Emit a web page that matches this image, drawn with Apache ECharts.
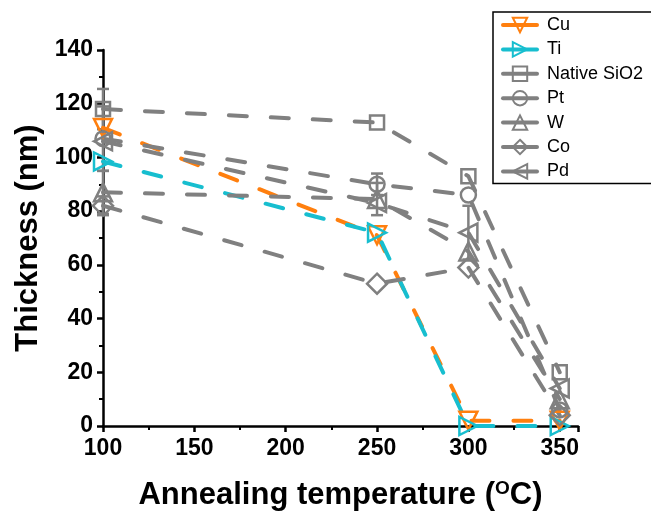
<!DOCTYPE html>
<html>
<head>
<meta charset="utf-8">
<script src="https://cdn.jsdelivr.net/npm/echarts@6/dist/echarts.min.js"></script>
<style>html,body{margin:0;padding:0;background:#fff;}#c{width:651px;height:516px;}</style>
</head>
<body>
<div id="c"></div>
<script>
// ---- data ----
const temps = [100, 250, 300, 350];
const cu   = [111, 71, 2, 2];
const ti   = [98.5, 72, 0, 0];
const sio2 = [118, 113, 93, 20];
const pt   = [107, 90, 86, 6];
const w    = [87, 84.5, 65, 10];
const co   = [82, 53, 59, 4];
const pd   = [106, 83, 72, 14];
// error bars: [temperature, value, half-range]
const errBars = [[100,118,7.5],[100,107,12],[100,87,8],[100,82,3.5],[250,90,4],[250,84.5,6],[300,72,10]];
const xTicks = [100, 150, 200, 250, 300, 350];
const yTicks = [0, 20, 40, 60, 80, 100, 120, 140];

const ORANGE = '#FF7F0E', CYAN = '#17BECF', GRAY = '#808080';
const FONT = '"Liberation Sans", Arial, sans-serif';

function mk(name, vals, color, symbol, rot, size) {
  return {
    name: name, type: 'line',
    data: temps.map((t, i) => [t, vals[i]]),
    symbol: symbol, symbolRotate: rot, symbolSize: size,
    lineStyle: { color: color, width: 4, type: [18, 24], cap: 'round' },
    itemStyle: { color: 'rgba(255,255,255,0)', borderColor: color, borderWidth: 2.5 },
    emphasis: { disabled: true },
    z: 3
  };
}

const series = [
  mk('Cu', cu, ORANGE, 'triangle', 180, 18),
  mk('Ti', ti, CYAN, 'triangle', -90, 18),
  mk('Native SiO2', sio2, GRAY, 'rect', 0, 14),
  mk('Pt', pt, GRAY, 'circle', 0, 15),
  mk('W', w, GRAY, 'triangle', 0, 18),
  mk('Co', co, GRAY, 'diamond', 0, 20),
  mk('Pd', pd, GRAY, 'triangle', 90, 18),
  {
    type: 'custom', name: 'err', data: errBars, z: 2,
    encode: { x: 0, y: 1 },
    renderItem: function (params, api) {
      const x = api.value(0), y = api.value(1), e = api.value(2);
      const hi = api.coord([x, y + e]), lo = api.coord([x, y - e]);
      const cw = 6;
      const st = { stroke: GRAY, lineWidth: 2.5 };
      return { type: 'group', children: [
        { type: 'line', shape: { x1: hi[0], y1: hi[1], x2: lo[0], y2: lo[1] }, style: st },
        { type: 'line', shape: { x1: hi[0] - cw, y1: hi[1], x2: hi[0] + cw, y2: hi[1] }, style: st },
        { type: 'line', shape: { x1: lo[0] - cw, y1: lo[1], x2: lo[0] + cw, y2: lo[1] }, style: st }
      ]};
    }
  }
];

const chart = echarts.init(document.getElementById('c'), null, { renderer: 'canvas' });
chart.setOption({
  animation: false,
  backgroundColor: '#fff',
  grid: { left: 103, right: 73, top: 50, bottom: 85 },
  legend: {
    data: ['Cu', 'Ti', 'Native SiO2', 'Pt', 'W', 'Co', 'Pd'],
    orient: 'vertical', left: 493, top: 12,
    padding: [4, 30, 3, 8],
    itemWidth: 34, itemHeight: 18, itemGap: 6.4,
    borderColor: '#000', borderWidth: 1.5,
    lineStyle: { type: 'solid', width: 4 },
    textStyle: { fontFamily: FONT, fontSize: 18, color: '#000', lineHeight: 18, padding: [0, 0, 0, 5] },
    selectedMode: false
  },
  xAxis: {
    type: 'value', min: 100, max: 360, interval: 50,
    name: '{a|Annealing temperature (}{s|O}{a|C)}',
    nameLocation: 'middle', nameGap: 53,
    nameTextStyle: {
      rich: {
        a: { fontFamily: FONT, fontSize: 31, fontWeight: 'bold', color: '#000' },
        s: { fontFamily: FONT, fontSize: 19, fontWeight: 'bold', color: '#000', padding: [0, 0, 14, 0] }
      }
    },
    axisLine: { onZero: false, lineStyle: { color: '#000', width: 2.5 } },
    axisTick: { show: true, length: 6, lineStyle: { width: 2.5, color: '#000' } },
    minorTick: { show: true, splitNumber: 2, length: 4, lineStyle: { width: 2, color: '#000' } },
    axisLabel: { fontFamily: FONT, fontSize: 23, fontWeight: 'bold', color: '#000', margin: 11, showMaxLabel: false,
      formatter: v => (xTicks.indexOf(v) >= 0 ? String(v) : '') },
    splitLine: { show: false }
  },
  yAxis: {
    type: 'value', min: 0, max: 140, interval: 20,
    name: 'Thickness (nm)',
    nameLocation: 'middle', nameGap: 49,
    nameTextStyle: { fontFamily: FONT, fontSize: 31, fontWeight: 'bold', color: '#000' },
    axisLine: { show: true, lineStyle: { color: '#000', width: 2.5 } },
    axisTick: { show: true, length: 6, lineStyle: { width: 2.5, color: '#000' } },
    minorTick: { show: true, splitNumber: 2, length: 4, lineStyle: { width: 2, color: '#000' } },
    axisLabel: { fontFamily: FONT, fontSize: 23, fontWeight: 'bold', color: '#000', margin: 10,
      formatter: v => (yTicks.indexOf(v) >= 0 ? String(v) : '') },
    splitLine: { show: false }
  },
  series: series
});
</script>
</body>
</html>
